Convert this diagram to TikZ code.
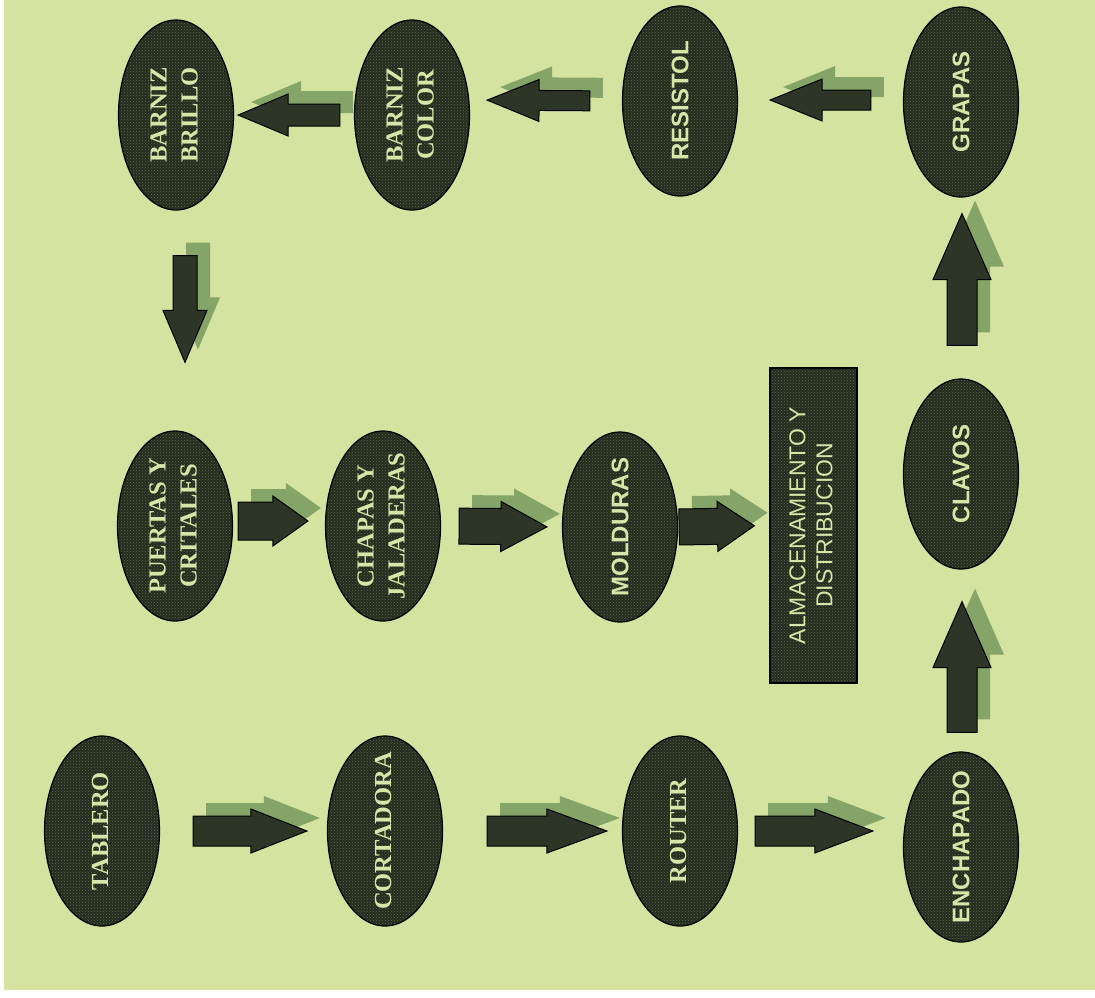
\documentclass[tikz,border=0pt]{standalone}
\usepackage{fontspec}
\setmainfont{Liberation Serif}
\newfontfamily\sansf{Liberation Sans}
\usetikzlibrary{shapes.geometric,calc,patterns}
\definecolor{bgc}{RGB}{213,227,160}
\definecolor{nodedark}{RGB}{36,44,30}
\definecolor{dotc}{RGB}{92,102,80}
\definecolor{txt}{RGB}{214,230,168}
\definecolor{arrowc}{RGB}{45,54,38}
\definecolor{shadowc}{RGB}{132,164,104}
\tikzset{
  nd/.style={ellipse, draw=black, line width=1.2pt, preaction={fill=nodedark},
    pattern=crosshatch dots, pattern color=dotc,
    minimum width=115pt, minimum height=190pt, inner xsep=0pt, inner ysep=-40pt, text=txt},
  boxnd/.style={rectangle, draw=black, line width=1.2pt, preaction={fill=nodedark},
    pattern=crosshatch dots, pattern color=dotc,
    minimum width=87pt, minimum height=315pt, inner sep=0pt, text=txt},
  arr/.style={draw=black, line width=1pt, fill=arrowc},
  shd/.style={transform canvas={shift={(13pt,13pt)}}, fill=shadowc},
}
\newcommand\stxt[1]{\rotatebox{90}{\fontsize{24.5}{31}\selectfont\bfseries\begin{tabular}{@{}c@{}}#1\end{tabular}}}
\newcommand\ftxt[1]{\rotatebox{90}{\sansf\fontsize{24}{30}\selectfont\bfseries #1}}
\newcommand\blockarrow[8]{%
  \coordinate (ta) at ($(#1)!#3!(#2)$);
  \coordinate (tb) at ($(#2)!#4!(#1)$);
  \coordinate (th) at ($(tb)!#7!(ta)$);
  \path[#8] ($(ta)!#5!90:(tb)$) -- ($(th)!#5!-90:(ta)$) -- ($(th)!#6!-90:(ta)$) -- (tb)
    -- ($(th)!#6!90:(ta)$) -- ($(th)!#5!90:(ta)$) -- ($(ta)!#5!-90:(tb)$) -- cycle;}
\newcommand\linkarrow[7]{%
  \blockarrow{#1}{#2}{#3}{#4}{#5}{#6}{#7}{shd}%
  \blockarrow{#1}{#2}{#3}{#4}{#5}{#6}{#7}{arr}}
\begin{document}
\begin{tikzpicture}[x=1pt,y=-1pt]
\fill[white] (0,0) rectangle (1095,997);
\fill[bgc] (4,0) rectangle (1095,990);
% nodes
\node[nd] (bb)  at (176,115) {\stxt{BARNIZ\\BRILLO}};
\node[nd] (bc)  at (412,115) {\stxt{BARNIZ\\COLOR}};
\node[nd] (res) at (680,101) {\ftxt{RESISTOL}};
\node[nd] (gra) at (961,102) {\ftxt{GRAPAS}};
\node[nd] (pue) at (175,526) {\stxt{PUERTAS Y\\CRITALES}};
\node[nd] (cha) at (383,526) {\stxt{CHAPAS Y\\JALADERAS}};
\node[nd] (mol) at (620,527) {\ftxt{MOLDURAS}};
\node[boxnd] (alm) at (813.5,525.5) {\rotatebox{90}{\sansf\fontsize{23}{27}\selectfont\begin{tabular}{@{}c@{}}ALMACENAMIENTO Y\\DISTRIBUCION\end{tabular}}};
\node[nd] (cla) at (961,474) {\ftxt{CLAVOS}};
\node[nd] (tab) at (102,831) {\stxt{TABLERO}};
\node[nd] (cor) at (385,831) {\stxt{CORTADORA}};
\node[nd] (rou) at (680,831) {\stxt{ROUTER}};
\node[nd] (enc) at (961,847) {\ftxt{ENCHAPADO}};
% helper coordinates
\coordinate (encW) at ($(enc.west)+(0,-16)$);
\coordinate (bcE)  at ($(bc.east)+(0,-15)$);
\coordinate (resE) at ($(res.east)+(0,-1)$);
\coordinate (graW) at ($(gra.west)+(0,-2)$);
\coordinate (bbS)  at ($(bb.south)+(9,0)$);
\coordinate (pueN) at ($(pue.north)+(10,0)$);
\coordinate (pueE) at ($(pue.east)+(0,-5)$);
\coordinate (chaW) at ($(cha.west)+(0,-5)$);
\coordinate (encN) at ($(enc.north)+(1,0)$);
\coordinate (claS) at ($(cla.south)+(1,0)$);
\coordinate (claN) at ($(cla.north)+(1,0)$);
\coordinate (graS) at ($(gra.south)+(1,0)$);
% arrows
\linkarrow{tab.east}{cor.west}{33pt}{20pt}{15pt}{22pt}{56pt}
\linkarrow{cor.east}{rou.west}{44pt}{15pt}{15pt}{22pt}{60pt}
\linkarrow{rou.east}{encW}{17pt}{30pt}{15pt}{22pt}{58pt}
\linkarrow{encN}{claS}{19pt}{32pt}{15pt}{29pt}{66pt}
\linkarrow{claN}{graS}{33pt}{16pt}{15pt}{29pt}{66pt}
\linkarrow{graW}{resE}{32pt}{32pt}{10pt}{21pt}{52pt}
\linkarrow{res.west}{bcE}{32pt}{17pt}{10pt}{21pt}{52pt}
\linkarrow{bc.west}{bb.east}{14pt}{4pt}{11pt}{21pt}{50pt}
\linkarrow{bbS}{pueN}{45pt}{68pt}{12pt}{22pt}{52pt}
\linkarrow{pueE}{chaW}{5pt}{17pt}{19pt}{25pt}{35pt}
\linkarrow{cha.east}{mol.west}{18pt}{15pt}{18pt}{25pt}{46pt}
\linkarrow{mol.east}{alm.west}{1pt}{15pt}{18pt}{25pt}{37pt}
\end{tikzpicture}
\end{document}
